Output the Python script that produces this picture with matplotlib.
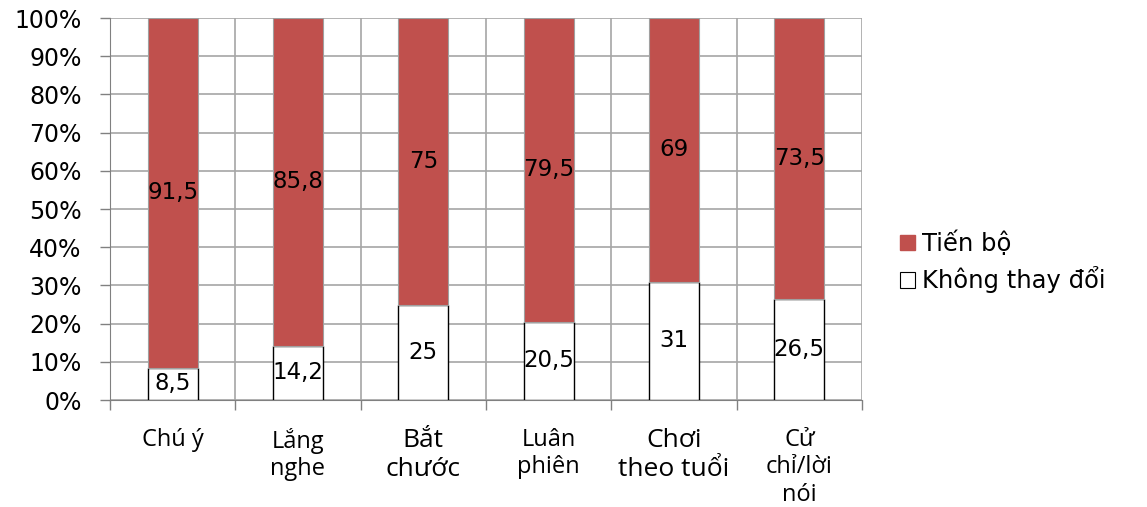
import matplotlib
matplotlib.use("Agg")
import matplotlib.pyplot as plt
from matplotlib.patches import Patch
import numpy as np

categories = ["Chú ý", "Lắng\nnghe", "Bắt\nchước", "Luân\nphiên", "Chơi\ntheo tuổi", "Cử\nchỉ/lời\nnói"]
cat_sizes = [17, 17, 19, 17, 19, 17]
khong_thay_doi = [8.5, 14.2, 25, 20.5, 31, 26.5]
tien_bo = [91.5, 85.8, 75, 79.5, 69, 73.5]
yticks = [0, 10, 20, 30, 40, 50, 60, 70, 80, 90, 100]

def fmt(v):
    s = ("%g" % v).replace(".", ",")
    return s

fig = plt.figure(figsize=(11.47, 5.07), dpi=100)
ax = fig.add_axes([110/1147, 1 - 400/507, 752/1147, 382/507])

x = np.arange(len(categories))
w = 0.4
b1 = ax.bar(x, khong_thay_doi, width=w, color="white", edgecolor="black", linewidth=1.0, zorder=3)
b2 = ax.bar(x, tien_bo, width=w, bottom=khong_thay_doi, color="#C0504D", edgecolor="#A0A0A0", linewidth=0.8, zorder=3)

for i in range(len(categories)):
    ax.text(x[i], khong_thay_doi[i] / 2, fmt(khong_thay_doi[i]), ha="center", va="center",
            fontsize=16.5, family="DejaVu Sans", zorder=4)
    ax.text(x[i], khong_thay_doi[i] + tien_bo[i] / 2, fmt(tien_bo[i]), ha="center", va="center",
            fontsize=16.5, family="DejaVu Sans", zorder=4)

ax.set_xlim(-0.5, len(categories) - 0.5)
ax.set_ylim(0, 100)
ax.set_yticks(yticks)
ax.set_yticklabels(["%d%%" % t for t in yticks], fontsize=17, family="DejaVu Sans")
ax.grid(axis="y", color="#A6A6A6", linewidth=1.2, zorder=0)
for b in np.arange(-0.5, len(categories) + 0.5, 1):
    ax.axvline(b, color="#A6A6A6", linewidth=1.2, zorder=0)
ax.set_xticks(np.arange(-0.5, len(categories) + 0.5, 1))
ax.set_xticklabels([])
ax.tick_params(axis="x", length=7, color="#808080", width=1)
ax.tick_params(axis="y", length=7.5, color="#808080", width=1, pad=13)
for s in ["top", "right"]:
    ax.spines[s].set_visible(False)
for s in ["left", "bottom"]:
    ax.spines[s].set_color("#808080")

for i, c in enumerate(categories):
    ax.text(x[i], -7.3, c, ha="center", va="top", fontsize=cat_sizes[i], family="Open Sans",
            linespacing=1.2, transform=ax.transData, clip_on=False)

handles = [Patch(facecolor="#C0504D", edgecolor="#C0504D"),
           Patch(facecolor="white", edgecolor="black", linewidth=0.8)]
fig.legend(handles, ["Tiến bộ", "Không thay đổi"], loc="center left",
           bbox_to_anchor=(878/1147, 1 - 262/507), frameon=False,
           prop={"family": "DejaVu Sans", "size": 17.5},
           handlelength=0.62, handleheight=0.62, handletextpad=0.3, labelspacing=0.42)

fig.savefig("out.png", dpi=100)
